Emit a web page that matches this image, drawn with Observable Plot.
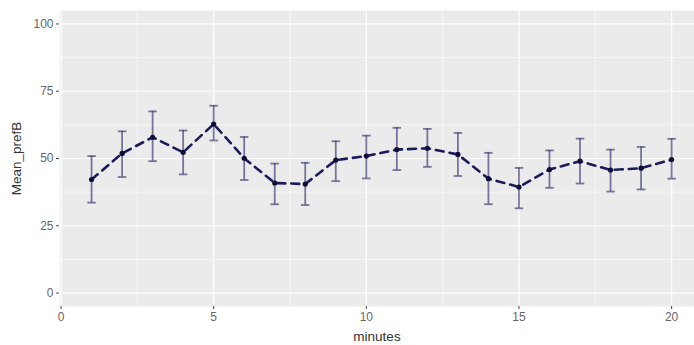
<!DOCTYPE html>
<html>
<head>
<meta charset="utf-8">
<script src="https://cdn.jsdelivr.net/npm/d3@7"></script>
<script src="https://cdn.jsdelivr.net/npm/@observablehq/plot@0.6"></script>
<style>
  html, body { margin: 0; padding: 0; background: #fff; }
  #chart svg { display: block; }
</style>
</head>
<body>
<div id="chart"></div>
<script>
const minutes = [1,2,3,4,5,6,7,8,9,10,11,12,13,14,15,16,17,18,19,20];
const meanPrefB = [42.2,51.9,57.9,52.3,62.8,50.1,40.9,40.5,49.4,50.9,53.3,53.8,51.5,42.5,39.4,45.9,49.0,45.7,46.4,49.6];
const upper = [50.9,60.1,67.5,60.4,69.6,58.0,48.1,48.4,56.4,58.5,61.4,61.0,59.5,52.1,46.5,53.0,57.4,53.3,54.3,57.3];
const lower = [33.6,43.1,49.0,44.1,56.7,42.0,33.0,32.7,41.6,42.6,45.7,46.9,43.5,33.0,31.5,39.1,40.7,37.7,38.5,42.5];
const xTicks = [0,5,10,15,20];
const xMinor = [2.5,7.5,12.5,17.5];
const yTicks = [0,25,50,75,100];
const yMinor = [12.5,37.5,62.5,87.5];

const data = minutes.map((m,i) => ({x: m, y: meanPrefB[i], lo: lower[i], hi: upper[i]}));
const capHalf = 0.14;

const chart = Plot.plot({
  width: 694,
  height: 345,
  marginLeft: 59,
  marginRight: 0,
  marginTop: 10,
  marginBottom: 39,
  style: {fontFamily: "'Liberation Sans', Arial, sans-serif", fontSize: "12px", color: "#555", background: "#fff"},
  x: {domain: [-0.05, 20.75], ticks: xTicks, label: "minutes"},
  y: {domain: [-5, 105], ticks: yTicks, label: "Mean_prefB"},
  marks: [
    Plot.frame({fill: "#EBEBEB", stroke: null}),
    Plot.ruleX(xMinor, {stroke: "#fff", strokeWidth: 0.6}),
    Plot.ruleY(yMinor, {stroke: "#fff", strokeWidth: 0.6}),
    Plot.ruleX(xTicks, {stroke: "#fff", strokeWidth: 1.2}),
    Plot.ruleY(yTicks, {stroke: "#fff", strokeWidth: 1.2}),
    Plot.axisX({ticks: xTicks, tickSize: 3, tickPadding: 3, stroke: "#444", fill: "#666", label: null, fontSize: 12}),
    Plot.axisY({ticks: yTicks, tickSize: 3, tickPadding: 3, stroke: "#444", fill: "#666", label: null, fontSize: 12}),
    Plot.axisX({ticks: [], tickSize: 0, label: "minutes", labelAnchor: "center", labelArrow: "none", labelOffset: 34, fontSize: 13.5, fill: "#333"}),
    Plot.axisY({ticks: [], tickSize: 0, label: "Mean_prefB", labelAnchor: "center", labelArrow: "none", labelOffset: 48, fontSize: 13.5, fill: "#333"}),
    Plot.ruleX(data, {x: "x", y1: "lo", y2: "hi", stroke: "#34346f", strokeOpacity: 0.65, strokeWidth: 1.8}),
    Plot.link(data, {x1: d => d.x - capHalf, x2: d => d.x + capHalf, y1: "hi", y2: "hi", stroke: "#34346f", strokeOpacity: 0.65, strokeWidth: 1.8}),
    Plot.link(data, {x1: d => d.x - capHalf, x2: d => d.x + capHalf, y1: "lo", y2: "lo", stroke: "#34346f", strokeOpacity: 0.65, strokeWidth: 1.8}),
    Plot.line(data, {x: "x", y: "y", stroke: "#1b1b5c", strokeWidth: 2.6, strokeDasharray: "8,6"}),
    Plot.dot(data, {x: "x", y: "y", r: 2.6, fill: "#0e0e38", stroke: null})
  ]
});
document.getElementById("chart").append(chart);
</script>
</body>
</html>
